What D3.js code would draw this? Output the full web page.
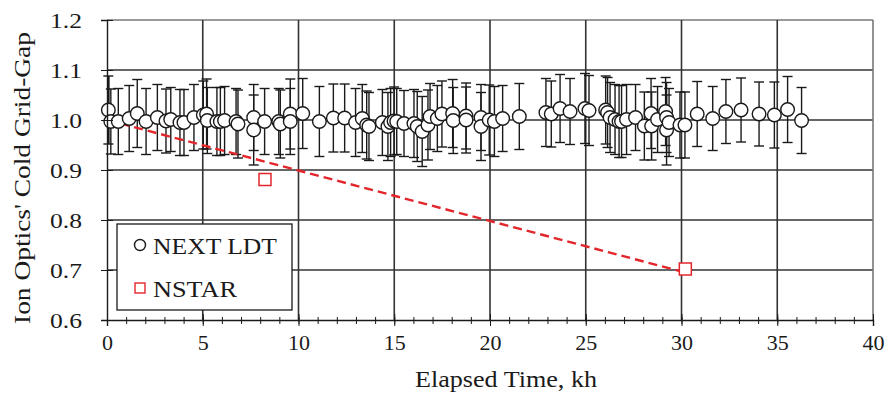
<!DOCTYPE html>
<html><head><meta charset="utf-8">
<script src="https://cdn.jsdelivr.net/npm/d3@7/dist/d3.min.js"></script>
<style>
body{margin:0;background:#fff}
text{font-family:"Liberation Serif","Times New Roman",Tinos,serif;fill:#1a1a1a}
</style>
</head><body>
<svg id="c" width="888" height="393"></svg>
<script>
// NEXT LDT measurements (elapsed kh, normalized cold grid gap, +/- uncertainty)
const nextTime=[0.07,0.2,0.59,1.16,1.58,2.04,2.63,3.08,3.33,3.81,4.02,4.54,5.03,5.2,5.24,5.74,5.92,6.14,6.74,6.84,7.66,7.66,8.23,8.97,9.05,9.57,9.57,10.22,11.09,11.82,12.41,12.98,13.33,13.56,13.68,14.38,14.67,14.81,14.99,15.13,15.51,16.03,16.2,16.46,16.76,16.87,17.25,17.49,18.05,18.08,18.75,18.75,19.53,19.53,19.96,20.23,20.66,21.53,22.92,23.2,23.66,24.18,24.96,25.17,26.04,26.14,26.27,26.53,26.74,26.87,27.13,27.6,28.06,28.41,28.44,28.75,29.17,29.22,29.22,29.35,29.92,30.18,30.82,31.63,32.32,33.11,34.05,34.85,35.54,36.27];
const nextGap=[1.020,0.997,0.997,1.003,1.013,0.997,1.005,0.998,1.001,0.995,0.995,1.005,1.010,1.012,0.999,0.997,0.997,0.999,0.997,0.992,1.005,0.980,0.997,0.997,0.992,1.012,0.997,1.013,0.997,1.004,1.004,0.995,1.003,0.990,0.987,0.995,0.987,0.995,0.998,0.997,0.993,0.993,0.987,0.977,0.990,1.007,1.003,1.012,1.013,0.999,1.008,1.000,1.005,0.987,1.000,0.997,1.003,1.007,1.015,1.012,1.023,1.017,1.023,1.019,1.020,1.015,1.005,1.001,0.997,0.997,1.001,1.005,0.988,1.013,0.988,1.001,1.017,1.005,0.980,0.995,0.990,0.990,1.012,1.003,1.017,1.020,1.012,1.010,1.021,0.999];
const nextErr=[0.068,0.065,0.066,0.066,0.068,0.066,0.066,0.064,0.064,0.066,0.066,0.066,0.068,0.070,0.066,0.068,0.068,0.068,0.066,0.068,0.066,0.070,0.066,0.066,0.068,0.070,0.066,0.070,0.070,0.068,0.068,0.068,0.068,0.068,0.068,0.066,0.068,0.068,0.068,0.066,0.066,0.068,0.070,0.070,0.070,0.066,0.066,0.066,0.068,0.066,0.066,0.066,0.066,0.068,0.070,0.070,0.066,0.066,0.068,0.066,0.068,0.066,0.070,0.070,0.068,0.070,0.070,0.070,0.072,0.072,0.070,0.066,0.068,0.070,0.068,0.066,0.068,0.070,0.070,0.068,0.066,0.066,0.065,0.064,0.064,0.064,0.064,0.066,0.066,0.066];
// NSTAR
const nstarTime=[8.25,30.2];
const nstarGap=[0.881,0.702];
const trendTime=[0,30.0];
const trendGap=[1.0,0.697];
// axes
const xTicks=[0,5,10,15,20,25,30,35,40];
const xMinor=d3.range(0,41,1);
const yTicks=[0.6,0.7,0.8,0.9,1.0,1.1,1.2];
const legendLabels=["NEXT LDT","NSTAR"];
const xTitle="Elapsed Time, kh";
const yTitle="Ion Optics' Cold Grid-Gap";

const svg=d3.select("#c");
const x=d3.scaleLinear().domain([0,40]).range([107,873]);
const y=d3.scaleLinear().domain([0.6,1.2]).range([320,20]);
const red="#e3262b";
const ink="#1a1a1a";

// grid
const g=svg.append("g");
g.selectAll(".hg").data(yTicks.slice(1)).join("line")
 .attr("x1",x(0)).attr("x2",x(40)).attr("y1",d=>y(d)).attr("y2",d=>y(d))
 .attr("stroke",d=>d===1.2?"#777":"#333").attr("stroke-width",1.6);
g.selectAll(".vg").data(xTicks.slice(1)).join("line")
 .attr("x1",d=>x(d)).attr("x2",d=>x(d)).attr("y1",y(0.6)).attr("y2",y(1.2))
 .attr("stroke",d=>d===40?"#777":"#333").attr("stroke-width",1.6);

// error bars
const nextData=nextTime.map((t,i)=>({t,v:nextGap[i],e:nextErr[i]}));
const eb=svg.append("g").attr("stroke",ink).attr("stroke-width",1.4);
nextData.forEach((d,i)=>{
  const xx=x(d.t), y1=y(d.v+d.e), y2=y(d.v-d.e);
  eb.append("line").attr("x1",xx).attr("x2",xx).attr("y1",y1).attr("y2",y2).attr("stroke-width",i===0?2.6:1.4);
  eb.append("line").attr("x1",xx-5).attr("x2",xx+5).attr("y1",y1).attr("y2",y1);
  eb.append("line").attr("x1",xx-5).attr("x2",xx+5).attr("y1",y2).attr("y2",y2);
});

// trend line
svg.append("path")
 .attr("d",d3.line().x(d=>x(d[0])).y(d=>y(d[1]))(trendTime.map((t,i)=>[t,trendGap[i]])))
 .attr("fill","none").attr("stroke",red).attr("stroke-width",2.4).attr("stroke-dasharray","9,5");

// circles
svg.append("g").selectAll("circle").data(nextData).join("circle")
 .attr("cx",d=>x(d.t)).attr("cy",d=>y(d.v)).attr("r",6.8)
 .attr("fill","#fff").attr("stroke",ink).attr("stroke-width",1.4);

// NSTAR squares
svg.append("g").selectAll("rect").data(nstarTime.map((t,i)=>({t,v:nstarGap[i]}))).join("rect")
 .attr("x",d=>x(d.t)-6).attr("y",d=>y(d.v)-6).attr("width",12).attr("height",12)
 .attr("fill","#fff").attr("stroke",red).attr("stroke-width",1.5);

// axes
const ax=svg.append("g").attr("transform","translate(0,320)")
 .call(d3.axisBottom(x).tickValues(xMinor).tickSize(4).tickFormat(""));
ax.select(".domain").remove();
ax.selectAll("line").attr("stroke",ink).attr("y1",-3).attr("y2",4);
const axM=svg.append("g").attr("transform","translate(0,320)")
 .call(d3.axisBottom(x).tickValues(xTicks).tickSize(6).tickPadding(8).tickFormat(d3.format("d")));
axM.select(".domain").attr("stroke",ink).attr("stroke-width",1.4);
axM.selectAll("line").attr("stroke",ink).attr("y1",-6);
axM.selectAll("text").attr("font-size",22).attr("fill",ink)
 .attr("font-family","Liberation Serif").attr("transform","scale(1.12,1)")
 .attr("x",function(){return 0;});
axM.selectAll(".tick").each(function(d){
  d3.select(this).select("text").attr("transform",null).attr("x",0);
});

const ay=svg.append("g").attr("transform","translate(107,0)")
 .call(d3.axisLeft(y).tickValues(yTicks).tickSize(6).tickPadding(19).tickFormat(d3.format(".1f")));
ay.select(".domain").attr("stroke",ink).attr("stroke-width",1.4);
ay.selectAll("line").attr("stroke",ink).attr("x2",-6).attr("x1",6);
ay.selectAll("text").attr("font-size",22).attr("fill",ink)
 .attr("font-family","Liberation Serif").attr("textLength",32).attr("lengthAdjust","spacingAndGlyphs");

// titles
svg.append("text").attr("x",506).attr("y",387).attr("text-anchor","middle")
 .attr("font-size",23).attr("textLength",182).attr("lengthAdjust","spacingAndGlyphs").text(xTitle);
svg.append("text").attr("transform","translate(30,178) rotate(-90)").attr("text-anchor","middle")
 .attr("font-size",23).attr("textLength",292).attr("lengthAdjust","spacingAndGlyphs").text(yTitle);

// legend
const lg=svg.append("g");
lg.append("rect").attr("x",117).attr("y",224).attr("width",175).attr("height",86)
 .attr("fill","#fff").attr("stroke",ink).attr("stroke-width",1.3);
lg.append("circle").attr("cx",140).attr("cy",245).attr("r",5.5).attr("fill","#fff").attr("stroke",ink).attr("stroke-width",1.4);
lg.append("rect").attr("x",135).attr("y",283).attr("width",10).attr("height",10).attr("fill","#fff").attr("stroke",red).attr("stroke-width",1.4);
lg.append("text").attr("x",153).attr("y",254).attr("font-size",24).attr("textLength",124).attr("lengthAdjust","spacingAndGlyphs").text(legendLabels[0]);
lg.append("text").attr("x",153).attr("y",297).attr("font-size",24).attr("textLength",84).attr("lengthAdjust","spacingAndGlyphs").text(legendLabels[1]);
</script>
</body></html>
